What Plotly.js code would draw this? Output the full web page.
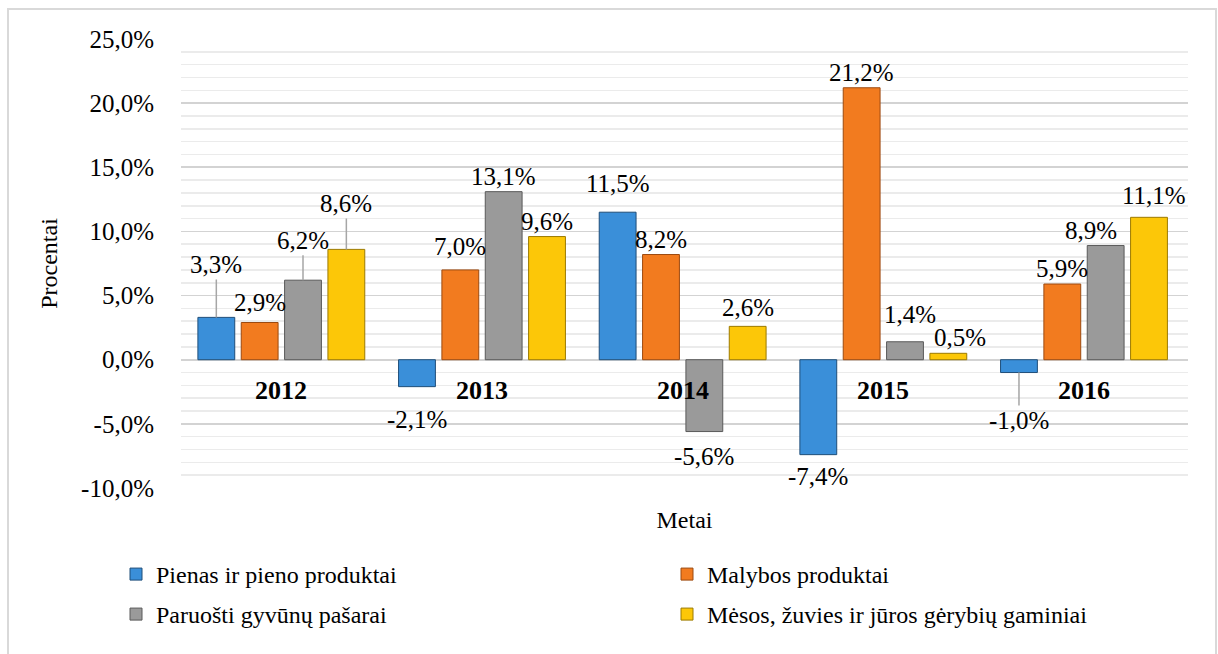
<!DOCTYPE html>
<html>
<head>
<meta charset="utf-8">
<script src="https://cdn.plot.ly/plotly-3.0.1.min.js"></script>
<style>
  html, body { margin: 0; padding: 0; background: #ffffff; }
  #chart { width: 1218px; height: 654px; }
</style>
</head>
<body>
<div id="chart"></div>
<script>
// ---- Data ----
const years = ['2012', '2013', '2014', '2015', '2016'];
const seriesNames = [
  'Pienas ir pieno produktai',
  'Malybos produktai',
  'Paruošti gyvūnų pašarai',
  'Mėsos, žuvies ir jūros gėrybių gaminiai'
];
const pienas  = [3.3, -2.1, 11.5, -7.4, -1.0];
const malybos = [2.9, 7.0, 8.2, 21.2, 5.9];
const pasarai = [6.2, 13.1, -5.6, 1.4, 8.9];
const mesa    = [8.6, 9.6, 2.6, 0.5, 11.1];
const yTickVals = [-10, -5, 0, 5, 10, 15, 20, 25];
const yTickText = ['-10,0%', '-5,0%', '0,0%', '5,0%', '10,0%', '15,0%', '20,0%', '25,0%'];

// ---- Styling ----
const fillColors = ['#3a8fd9', '#f27b1f', '#9a9a9a', '#fcc708'];
const lineColors = ['#1f4e79', '#9c4a10', '#5a5a5a', '#9c7a00'];
const legendRow = ['legend', 'legend', 'legend2', 'legend2'];
const FONT = 'Liberation Serif, Times New Roman, serif';
const BARGAP = 0.136, BARGROUPGAP = 0.15;

// label placement tweaks (pixels), keyed by series index + year index
const labelTweaks = {
  '0-0': { ay: -53 },          // 3,3% leader line
  '2-0': { ay: -40 },          // 6,2% leader line
  '3-0': { ay: -46 },          // 8,6% leader line
  '0-4': { ay: 48 },           // -1,0% leader line
  '1-0': { dy: 5 },
  '1-1': { dy: 8 },
  '0-2': { dy: 13 },
  '3-2': { dy: 3 },
  '2-3': { dy: 12, dx: 5 },
  '3-3': { dx: 12 },
  '2-4': { dx: -15 },
  '3-4': { dy: 6, dx: 5 },
  '0-1': { dy: -17 },
  '2-2': { dy: -9 },
  '0-3': { dy: -6 }
};

const allSeries = [pienas, malybos, pasarai, mesa];

const fmt = v => v.toFixed(1).replace('.', ',') + '%';

const traces = allSeries.map((vals, s) => ({
  type: 'bar',
  name: seriesNames[s],
  x: years,
  y: vals,
  legend: legendRow[s],
  marker: { color: fillColors[s], line: { color: lineColors[s], width: 1 } },
  hoverinfo: 'skip'
}));

const annotations = [];
const slot = (1 - BARGAP) / allSeries.length;
allSeries.forEach((vals, s) => {
  vals.forEach((v, i) => {
    const t = labelTweaks[s + '-' + i] || {};
    const xpos = i + (s - (allSeries.length - 1) / 2) * slot;
    const base = {
      x: xpos, y: v, xref: 'x', yref: 'y',
      text: fmt(v),
      font: { family: FONT, size: 25, color: '#000000' }
    };
    if (t.ay !== undefined) {
      Object.assign(base, {
        showarrow: true, arrowhead: 0, arrowwidth: 1.5, arrowcolor: '#a6a6a6',
        ax: 0, ay: t.ay, standoff: 0, startstandoff: 0
      });
    } else {
      Object.assign(base, {
        showarrow: false,
        yanchor: v >= 0 ? 'bottom' : 'top',
        yshift: t.dy || 0,
        xshift: t.dx || 0
      });
    }
    annotations.push(base);
  });
});

// year labels at the zero line
years.forEach((yr, i) => {
  annotations.push({
    x: i, y: 0, xref: 'x', yref: 'y',
    text: '<b>' + yr + '</b>', showarrow: false,
    yanchor: 'middle', yshift: -31,
    font: { family: FONT, size: 26, color: '#000000' }
  });
});

const legendBase = {
  orientation: 'h',
  x: -0.0625, xanchor: 'left',
  yanchor: 'top',
  entrywidth: 506, entrywidthmode: 'pixels',
  font: { family: FONT, size: 24, color: '#000000' },
  bgcolor: 'rgba(0,0,0,0)',
  traceorder: 'normal'
};

const layout = {
  width: 1218, height: 654,
  margin: { l: 181, r: 30, t: 39, b: 166, pad: 0 },
  paper_bgcolor: '#ffffff', plot_bgcolor: '#ffffff',
  barmode: 'group',
  bargap: BARGAP, bargroupgap: BARGROUPGAP,
  font: { family: FONT, size: 24, color: '#000000' },
  xaxis: {
    type: 'category',
    showticklabels: false, ticks: '', showgrid: false, zeroline: false, showline: false,
    title: { text: 'Metai', font: { family: FONT, size: 24, color: '#000000' }, standoff: 23 },
    automargin: false
  },
  yaxis: {
    range: [-10, 25],
    tickmode: 'array',
    tickvals: yTickVals,
    ticktext: yTickText,
    tickfont: { family: FONT, size: 25, color: '#000000' },
    ticks: '', ticklabelstandoff: 26,
    showgrid: true, gridcolor: '#d3d3d3', gridwidth: 1.6,
    minor: { dtick: 1, showgrid: true, gridcolor: '#ebebeb', gridwidth: 1.6, ticks: '' },
    zeroline: false, showline: false,
    title: { text: 'Procentai', font: { family: FONT, size: 24, color: '#000000' }, standoff: 16 },
    automargin: false
  },
  showlegend: true,
  legend: Object.assign({}, legendBase, { y: -0.1425 }),
  legend2: Object.assign({}, legendBase, { y: -0.2316 }),
  shapes: [{
    type: 'rect', xref: 'paper', yref: 'paper',
    x0: (8 - 181) / 1007, x1: (1216 - 181) / 1007,
    y0: (488 - 700) / 449, y1: (488 - 9) / 449,
    line: { color: '#d9d9d9', width: 2 }, fillcolor: 'rgba(0,0,0,0)',
    layer: 'below'
  }],
  annotations: annotations
};

Plotly.newPlot('chart', traces, layout, { staticPlot: true, displayModeBar: false });
</script>
</body>
</html>
